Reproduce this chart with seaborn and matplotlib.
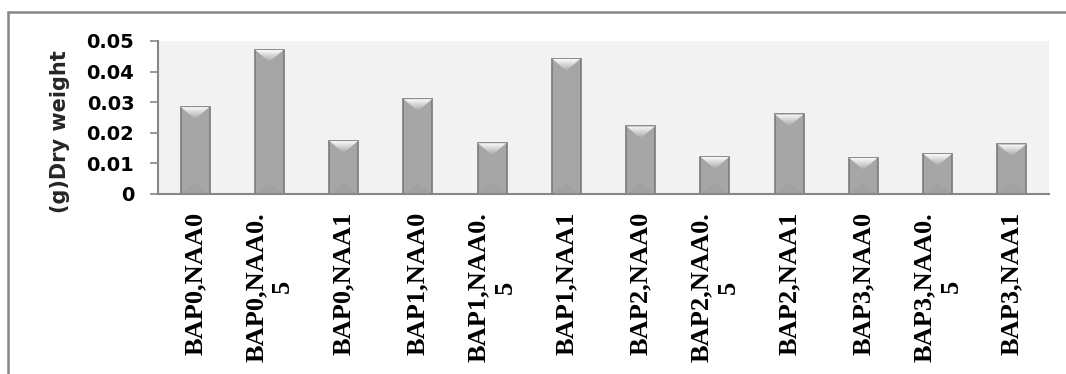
import numpy as np
import pandas as pd
import seaborn as sns
import matplotlib
matplotlib.use("Agg")
import matplotlib.pyplot as plt
from matplotlib.patches import Polygon, Rectangle

# Treatment combinations (BAP / NAA concentrations) and measured dry weight in grams
categories = [
    "BAP0,NAA0", "BAP0,NAA0.\n5", "BAP0,NAA1",
    "BAP1,NAA0", "BAP1,NAA0.\n5", "BAP1,NAA1",
    "BAP2,NAA0", "BAP2,NAA0.\n5", "BAP2,NAA1",
    "BAP3,NAA0", "BAP3,NAA0.\n5", "BAP3,NAA1",
]
dry_weight = [0.0284, 0.0471, 0.0173, 0.0310, 0.0166, 0.0442,
              0.0221, 0.0121, 0.0260, 0.0118, 0.0131, 0.0162]
y_ticks = [0, 0.01, 0.02, 0.03, 0.04, 0.05]
y_tick_labels = ["0", "0.01", "0.02", "0.03", "0.04", "0.05"]

sns.set_theme(style="white")
plt.rcParams["font.family"] = ["DejaVu Sans"]

fig = plt.figure(figsize=(10.66, 3.74), dpi=100)
ax = fig.add_axes([0.1482, 0.4813, 0.8358, 0.4091])

df = pd.DataFrame({"treatment": categories, "dry_weight": dry_weight})
sns.barplot(data=df, x="treatment", y="dry_weight", color="#a6a6a6",
            saturation=1, width=0.39, edgecolor="#7a7a7a", linewidth=1.2,
            errorbar=None, ax=ax)

ax.set_xlim(-0.5, len(categories) - 0.5)
ax.set_ylim(0, 0.05)
ax.set_facecolor("#f2f2f2")

# bevel highlight on each bar: light chevron at the top, faint shade at the base
axes_px_h = ax.get_position().height * fig.get_figheight() * fig.dpi
bevel = 12 * (0.05 / axes_px_h)
grad = np.linspace(1.0, 0.0, 64)[:, None]
light = np.array([0.98, 0.98, 0.98])
base = np.array([0.66, 0.66, 0.66])
img = (grad[..., None] * light + (1 - grad[..., None]) * base)
for patch in list(ax.patches):
    x0, w, h = patch.get_x(), patch.get_width(), patch.get_height()
    tri = Polygon([(x0 + 0.004, h), (x0 + w - 0.004, h), (x0 + w / 2, h - bevel)],
                  closed=True, facecolor="none", edgecolor="none")
    ax.add_patch(tri)
    im = ax.imshow(img, extent=[x0, x0 + w, h - bevel, h], aspect="auto",
                   origin="upper", zorder=3, interpolation="bilinear")
    im.set_clip_path(tri)
    ax.add_patch(Polygon([(x0 + 0.004, 0), (x0 + w - 0.004, 0), (x0 + w / 2, bevel * 0.9)],
                         closed=True, facecolor="#999999", edgecolor="none",
                         alpha=0.35, zorder=3))

ax.set_xlim(-0.5, len(categories) - 0.5)
ax.set_ylim(0, 0.05)

for side in ("top", "right"):
    ax.spines[side].set_visible(False)
for side in ("left", "bottom"):
    ax.spines[side].set_color("#868686")
    ax.spines[side].set_linewidth(1.5)

ax.set_yticks(y_ticks)
ax.set_yticklabels(y_tick_labels, fontsize=14, fontweight="bold", color="black")
ax.tick_params(axis="y", left=True, length=6, width=1.2, color="#868686", pad=11)

ax.set_xticks(range(len(categories)))
ax.set_xticklabels(categories, rotation=90, fontsize=19, fontweight="bold",
                   family=["Liberation Serif"], multialignment="center", color="black")
ax.tick_params(axis="x", bottom=False, pad=7)

ax.set_xlabel("")
ax.set_ylabel("(g)Dry weight", fontsize=15, fontweight="bold")
ax.yaxis.set_label_coords(-0.099, 0.41)

# chart-area frame
fig.add_artist(Rectangle((8 / 1066, -0.2), 1.2, 1.2 - 12 / 374, transform=fig.transFigure,
                         fill=False, edgecolor="#868686", linewidth=1.8, clip_on=False))

fig.savefig("out.png", dpi=100, facecolor="white")
